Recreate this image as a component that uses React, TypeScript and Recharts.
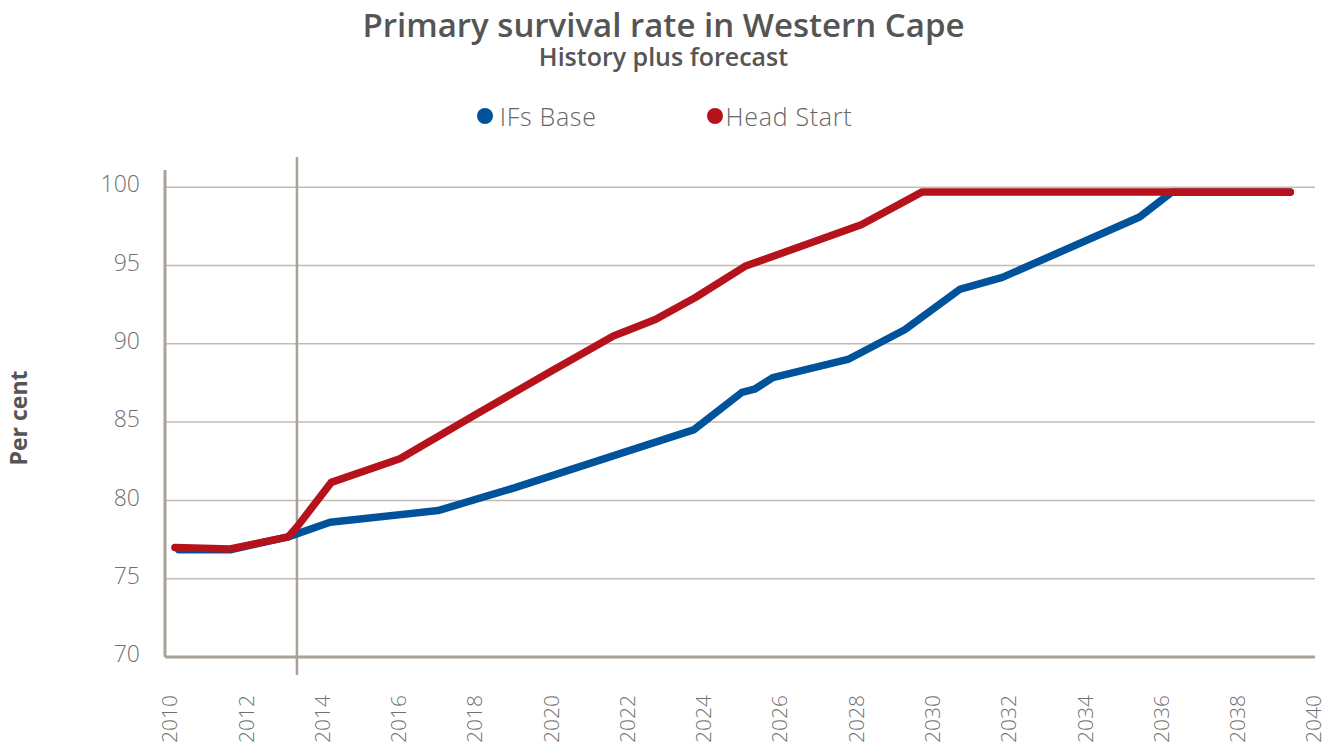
import { LineChart, Line, XAxis, YAxis, CartesianGrid, ReferenceLine, Legend } from 'recharts'

const baseYears = [2010.2, 2011.55, 2013.07, 2014.17, 2017.0, 2019.0, 2022.3, 2023.7, 2024.97, 2025.3, 2025.78, 2027.75, 2029.24, 2030.68, 2031.8, 2035.4, 2036.24, 2039.35]
const baseValues = [76.85, 76.85, 77.67, 78.6, 79.35, 80.8, 83.4, 84.5, 86.9, 87.1, 87.84, 89.0, 90.9, 93.47, 94.24, 98.1, 99.68, 99.68]

const headYears = [2010.1, 2011.55, 2013.07, 2013.3, 2014.2, 2016.0, 2018.0, 2020.0, 2021.6, 2022.7, 2023.75, 2025.05, 2028.1, 2029.7, 2039.35]
const headValues = [77.0, 76.9, 77.67, 78.3, 81.15, 82.66, 85.5, 88.3, 90.5, 91.55, 92.96, 94.95, 97.6, 99.7, 99.7]

const xTicks = [2010, 2012, 2014, 2016, 2018, 2020, 2022, 2024, 2026, 2028, 2030, 2032, 2034, 2036, 2038, 2040]
const yTicks = [70, 75, 80, 85, 90, 95, 100]
const historyEnd = 2013.3

const BLUE = '#00529b'
const RED = '#b5121b'
const AXIS = '#aaa197'
const GRID = '#c4bcb3'
const FONT = '"Open Sans", Lato, sans-serif'

const baseData = baseYears.map((year, i) => ({ year, value: baseValues[i] }))
const headData = headYears.map((year, i) => ({ year, value: headValues[i] }))

function XTick({ x, y, payload }: any) {
  return (
    <text x={x} y={y + 36} dy="0.3em" transform={`rotate(-90, ${x}, ${y + 36})`}
          textAnchor="end" fill="#707070" fontSize={21} fontWeight={300} fontFamily={FONT}>
      {payload.value}
    </text>
  )
}

function LegendBox() {
  const items = [
    { label: 'IFs Base', color: BLUE },
    { label: 'Head Start', color: RED },
  ]
  return (
    <div style={{ display: 'flex', justifyContent: 'center', fontFamily: FONT, paddingLeft: 2 }}>
      {items.map((it, i) => (
        <div key={it.label} style={{ display: 'flex', alignItems: 'center', marginRight: i === 0 ? 110 : 0 }}>
          <span style={{ width: 16, height: 16, borderRadius: 8, background: it.color, marginRight: i === 0 ? 7 : 3 }} />
          <span style={{ fontSize: 25, lineHeight: '30px', fontWeight: 300, color: '#666', letterSpacing: 0.7 }}>{it.label}</span>
        </div>
      ))}
    </div>
  )
}

export default function App() {
  return (
    <div style={{ position: 'absolute', left: 0, top: 0, width: 1327, height: 754, background: '#fff', fontFamily: FONT }}>
      <div style={{ position: 'absolute', top: 8, width: 1327, textAlign: 'center', fontSize: 33, lineHeight: '34px', fontWeight: 600, color: '#555' }}>
        Primary survival rate in Western Cape
      </div>
      <div style={{ position: 'absolute', top: 43, width: 1327, textAlign: 'center', fontSize: 25, lineHeight: '27px', fontWeight: 600, color: '#555' }}>
        History plus forecast
      </div>
      <div style={{ position: 'absolute', left: 3, top: 418, transform: 'translate(0, -50%) rotate(-90deg)', transformOrigin: 'center', fontSize: 23, fontWeight: 700, color: '#555', whiteSpace: 'nowrap', width: 30, display: 'flex', justifyContent: 'center' }}>
        Per cent
      </div>
      <LineChart width={1327} height={754} margin={{ top: 170, right: 12, bottom: 37, left: 85 }}>
        <CartesianGrid vertical={false} stroke={GRID} strokeWidth={1.5} syncWithTicks />
        <XAxis type="number" dataKey="year" domain={[2009.84, 2040]} ticks={xTicks} interval={0}
               allowDataOverflow height={60} tickLine={false} tickSize={0}
               axisLine={{ stroke: AXIS, strokeWidth: 3 }} tick={<XTick />} />
        <YAxis type="number" domain={[70, 101.1]} ticks={yTicks} interval={0} allowDataOverflow
               width={80} tickLine={false} tickSize={0} tickMargin={25}
               axisLine={{ stroke: AXIS, strokeWidth: 3 }}
               tick={{ fill: '#707070', fontSize: 23, fontWeight: 300, fontFamily: FONT, dy: -3 }} />
        <ReferenceLine x={historyEnd} stroke={AXIS}
                       shape={(p: any) => (
                         <line x1={p.x1} x2={p.x2} y1={Math.min(p.y1, p.y2) - 13} y2={Math.max(p.y1, p.y2) + 18}
                               stroke={AXIS} strokeWidth={2.5} />
                       )} />
        <Legend verticalAlign="middle" align="center" content={() => <LegendBox />}
                wrapperStyle={{ top: 101, left: 0, width: 1327 }} />
        <Line data={baseData} dataKey="value" name="IFs Base" type="linear" stroke={BLUE}
              strokeWidth={7.5} strokeLinecap="round" strokeLinejoin="round" dot={false} activeDot={false}
              isAnimationActive={false} />
        <Line data={headData} dataKey="value" name="Head Start" type="linear" stroke={RED}
              strokeWidth={7.5} strokeLinecap="round" strokeLinejoin="round" dot={false} activeDot={false}
              isAnimationActive={false} />
      </LineChart>
    </div>
  )
}
